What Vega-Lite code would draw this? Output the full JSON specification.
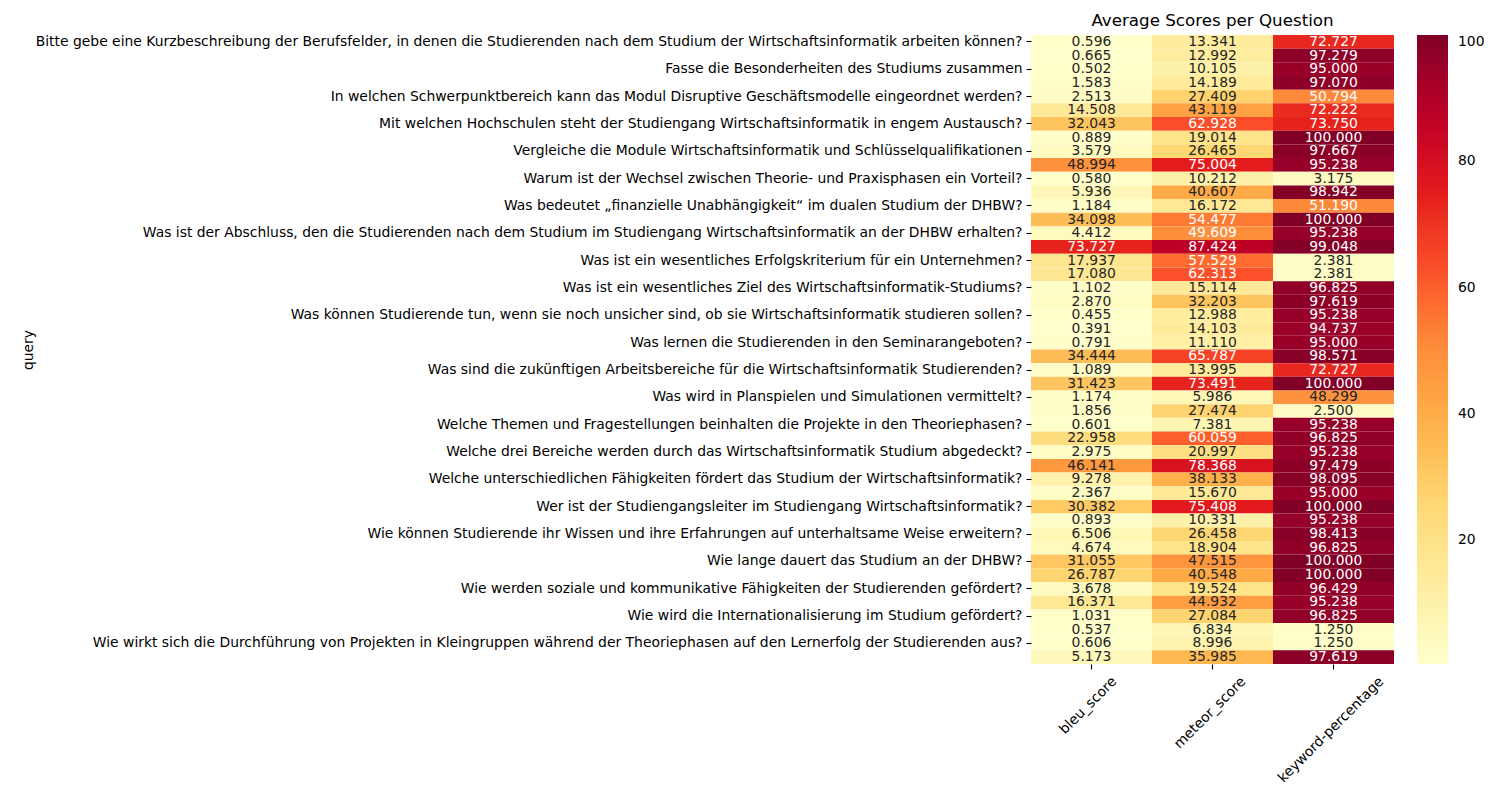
{
  "$schema": "https://vega.github.io/schema/vega-lite/v6.json",
  "autosize": {"type": "none"},
  "width": 363,
  "height": 629,
  "padding": {"left": 1031, "top": 35, "right": 106, "bottom": 136},
  "background": "white",
  "config": {
    "view": {"stroke": null},
    "font": "DejaVu Sans",
    "axis": {"labelFont": "DejaVu Sans", "titleFont": "DejaVu Sans", "labelColor": "#000000", "titleColor": "#000000", "tickColor": "#000000", "grid": false, "domain": false}
  },
  "title": {"text": "Average Scores per Question", "font": "DejaVu Sans", "fontSize": 16.7, "fontWeight": "normal", "color": "#000000", "anchor": "middle", "offset": 5},
  "datasets": {
    "scores": [
      {"row": 1, "query": "Bitte gebe eine Kurzbeschreibung der Berufsfelder, in denen die Studierenden nach dem Studium der Wirtschaftsinformatik arbeiten können?", "bleu_score": 0.596, "meteor_score": 13.341, "keyword-percentage": 72.727},
      {"row": 2, "query": "", "bleu_score": 0.665, "meteor_score": 12.992, "keyword-percentage": 97.279},
      {"row": 3, "query": "Fasse die Besonderheiten des Studiums zusammen", "bleu_score": 0.502, "meteor_score": 10.105, "keyword-percentage": 95.000},
      {"row": 4, "query": "", "bleu_score": 1.583, "meteor_score": 14.189, "keyword-percentage": 97.070},
      {"row": 5, "query": "In welchen Schwerpunktbereich kann das Modul Disruptive Geschäftsmodelle eingeordnet werden?", "bleu_score": 2.513, "meteor_score": 27.409, "keyword-percentage": 50.794},
      {"row": 6, "query": "", "bleu_score": 14.508, "meteor_score": 43.119, "keyword-percentage": 72.222},
      {"row": 7, "query": "Mit welchen Hochschulen steht der Studiengang Wirtschaftsinformatik in engem Austausch?", "bleu_score": 32.043, "meteor_score": 62.928, "keyword-percentage": 73.750},
      {"row": 8, "query": "", "bleu_score": 0.889, "meteor_score": 19.014, "keyword-percentage": 100.000},
      {"row": 9, "query": "Vergleiche die Module Wirtschaftsinformatik und Schlüsselqualifikationen", "bleu_score": 3.579, "meteor_score": 26.465, "keyword-percentage": 97.667},
      {"row": 10, "query": "", "bleu_score": 48.994, "meteor_score": 75.004, "keyword-percentage": 95.238},
      {"row": 11, "query": "Warum ist der Wechsel zwischen Theorie- und Praxisphasen ein Vorteil?", "bleu_score": 0.580, "meteor_score": 10.212, "keyword-percentage": 3.175},
      {"row": 12, "query": "", "bleu_score": 5.936, "meteor_score": 40.607, "keyword-percentage": 98.942},
      {"row": 13, "query": "Was bedeutet „finanzielle Unabhängigkeit“ im dualen Studium der DHBW?", "bleu_score": 1.184, "meteor_score": 16.172, "keyword-percentage": 51.190},
      {"row": 14, "query": "", "bleu_score": 34.098, "meteor_score": 54.477, "keyword-percentage": 100.000},
      {"row": 15, "query": "Was ist der Abschluss, den die Studierenden nach dem Studium im Studiengang Wirtschaftsinformatik an der DHBW erhalten?", "bleu_score": 4.412, "meteor_score": 49.609, "keyword-percentage": 95.238},
      {"row": 16, "query": "", "bleu_score": 73.727, "meteor_score": 87.424, "keyword-percentage": 99.048},
      {"row": 17, "query": "Was ist ein wesentliches Erfolgskriterium für ein Unternehmen?", "bleu_score": 17.937, "meteor_score": 57.529, "keyword-percentage": 2.381},
      {"row": 18, "query": "", "bleu_score": 17.080, "meteor_score": 62.313, "keyword-percentage": 2.381},
      {"row": 19, "query": "Was ist ein wesentliches Ziel des Wirtschaftsinformatik-Studiums?", "bleu_score": 1.102, "meteor_score": 15.114, "keyword-percentage": 96.825},
      {"row": 20, "query": "", "bleu_score": 2.870, "meteor_score": 32.203, "keyword-percentage": 97.619},
      {"row": 21, "query": "Was können Studierende tun, wenn sie noch unsicher sind, ob sie Wirtschaftsinformatik studieren sollen?", "bleu_score": 0.455, "meteor_score": 12.988, "keyword-percentage": 95.238},
      {"row": 22, "query": "", "bleu_score": 0.391, "meteor_score": 14.103, "keyword-percentage": 94.737},
      {"row": 23, "query": "Was lernen die Studierenden in den Seminarangeboten?", "bleu_score": 0.791, "meteor_score": 11.110, "keyword-percentage": 95.000},
      {"row": 24, "query": "", "bleu_score": 34.444, "meteor_score": 65.787, "keyword-percentage": 98.571},
      {"row": 25, "query": "Was sind die zukünftigen Arbeitsbereiche für die Wirtschaftsinformatik Studierenden?", "bleu_score": 1.089, "meteor_score": 13.995, "keyword-percentage": 72.727},
      {"row": 26, "query": "", "bleu_score": 31.423, "meteor_score": 73.491, "keyword-percentage": 100.000},
      {"row": 27, "query": "Was wird in Planspielen und Simulationen vermittelt?", "bleu_score": 1.174, "meteor_score": 5.986, "keyword-percentage": 48.299},
      {"row": 28, "query": "", "bleu_score": 1.856, "meteor_score": 27.474, "keyword-percentage": 2.500},
      {"row": 29, "query": "Welche Themen und Fragestellungen beinhalten die Projekte in den Theoriephasen?", "bleu_score": 0.601, "meteor_score": 7.381, "keyword-percentage": 95.238},
      {"row": 30, "query": "", "bleu_score": 22.958, "meteor_score": 60.059, "keyword-percentage": 96.825},
      {"row": 31, "query": "Welche drei Bereiche werden durch das  Wirtschaftsinformatik Studium abgedeckt?", "bleu_score": 2.975, "meteor_score": 20.997, "keyword-percentage": 95.238},
      {"row": 32, "query": "", "bleu_score": 46.141, "meteor_score": 78.368, "keyword-percentage": 97.479},
      {"row": 33, "query": "Welche unterschiedlichen Fähigkeiten fördert das Studium der Wirtschaftsinformatik?", "bleu_score": 9.278, "meteor_score": 38.133, "keyword-percentage": 98.095},
      {"row": 34, "query": "", "bleu_score": 2.367, "meteor_score": 15.670, "keyword-percentage": 95.000},
      {"row": 35, "query": "Wer ist der Studiengangsleiter im Studiengang Wirtschaftsinformatik?", "bleu_score": 30.382, "meteor_score": 75.408, "keyword-percentage": 100.000},
      {"row": 36, "query": "", "bleu_score": 0.893, "meteor_score": 10.331, "keyword-percentage": 95.238},
      {"row": 37, "query": "Wie können Studierende ihr Wissen und ihre Erfahrungen auf unterhaltsame Weise erweitern?", "bleu_score": 6.506, "meteor_score": 26.458, "keyword-percentage": 98.413},
      {"row": 38, "query": "", "bleu_score": 4.674, "meteor_score": 18.904, "keyword-percentage": 96.825},
      {"row": 39, "query": "Wie lange dauert das Studium an der DHBW?", "bleu_score": 31.055, "meteor_score": 47.515, "keyword-percentage": 100.000},
      {"row": 40, "query": "", "bleu_score": 26.787, "meteor_score": 40.548, "keyword-percentage": 100.000},
      {"row": 41, "query": "Wie werden soziale und kommunikative Fähigkeiten der Studierenden gefördert?", "bleu_score": 3.678, "meteor_score": 19.524, "keyword-percentage": 96.429},
      {"row": 42, "query": "", "bleu_score": 16.371, "meteor_score": 44.932, "keyword-percentage": 95.238},
      {"row": 43, "query": "Wie wird die Internationalisierung im Studium gefördert?", "bleu_score": 1.031, "meteor_score": 27.084, "keyword-percentage": 96.825},
      {"row": 44, "query": "", "bleu_score": 0.537, "meteor_score": 6.834, "keyword-percentage": 1.250},
      {"row": 45, "query": "Wie wirkt sich die Durchführung von Projekten in Kleingruppen während der Theoriephasen auf den Lernerfolg der Studierenden aus?", "bleu_score": 0.606, "meteor_score": 8.996, "keyword-percentage": 1.250},
      {"row": 46, "query": "", "bleu_score": 5.173, "meteor_score": 35.985, "keyword-percentage": 97.619}
    ]
  },
  "data": {"name": "scores"},
  "transform": [
    {"fold": ["bleu_score", "meteor_score", "keyword-percentage"], "as": ["metric", "value"]}
  ],
  "encoding": {
    "x": {
      "field": "metric", "type": "nominal",
      "sort": ["bleu_score", "meteor_score", "keyword-percentage"],
      "scale": {"paddingInner": 0, "paddingOuter": 0},
      "axis": {
        "title": null, "orient": "bottom", "labelAngle": -45, "labelAlign": "right", "labelBaseline": "middle",
        "labelFontSize": 13.9, "tickSize": 5, "tickWidth": 1.1, "labelPadding": 10,
        "labelOffset": {"condition": [{"test": "datum.value == 'bleu_score'", "value": 23}, {"test": "datum.value == 'meteor_score'", "value": 31}], "value": 48}
      }
    },
    "y": {
      "field": "row", "type": "ordinal",
      "scale": {"paddingInner": 0, "paddingOuter": 0},
      "axis": {
        "title": "query", "titleFontSize": 13.9, "titleFontWeight": "normal",
        "titleX": -996, "titleY": 314.5, "titleAngle": 270, "titleAlign": "center", "titleBaseline": "bottom",
        "values": [1, 3, 5, 7, 9, 11, 13, 15, 17, 19, 21, 23, 25, 27, 29, 31, 33, 35, 37, 39, 41, 43, 45],
        "labelExpr": "data('scores')[datum.value - 1].query",
        "labelFontSize": 13.9, "labelLimit": 0, "tickSize": 5, "tickWidth": 1.1, "labelPadding": 4
      }
    }
  },
  "layer": [
    {
      "mark": {"type": "rect", "strokeWidth": 0},
      "encoding": {
        "color": {
          "field": "value", "type": "quantitative",
          "scale": {
            "type": "linear",
            "domain": [0.391, 12.842, 25.293, 37.745, 50.196, 62.647, 75.098, 87.549, 100],
            "range": ["#ffffcc", "#ffeda0", "#fed976", "#feb24c", "#fd8d3c", "#fc4e2a", "#e31a1c", "#bd0026", "#800026"]
          },
          "legend": {
            "title": null, "orient": "right", "direction": "vertical", "type": "gradient",
            "values": [20, 40, 60, 80, 100],
            "gradientLength": 629, "gradientThickness": 31, "gradientStrokeWidth": 0,
            "offset": 23, "padding": 0, "labelOffset": 10, "labelBaseline": "middle",
            "labelFont": "DejaVu Sans", "labelFontSize": 13.9, "labelColor": "#000000", "labelOverlap": false
          }
        }
      }
    },
    {
      "mark": {"type": "text", "font": "DejaVu Sans", "fontSize": 13.9, "baseline": "middle", "align": "center"},
      "encoding": {
        "text": {"field": "value", "type": "quantitative", "format": ".3f"},
        "color": {
          "condition": {"test": "datum.value > 49.3", "value": "#ffffff"},
          "value": "#262626"
        }
      }
    }
  ]
}
